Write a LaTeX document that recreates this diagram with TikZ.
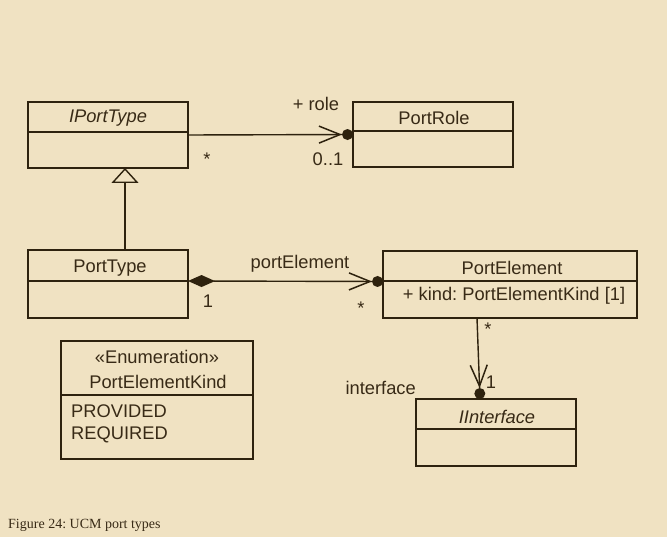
\documentclass[tikz,border=0pt]{standalone}
\usepackage{fontspec}
\setmainfont{Liberation Serif}
\newfontfamily\dfont{Liberation Sans}
\usetikzlibrary{arrows.meta}
\definecolor{bg}{RGB}{240,226,194}
\definecolor{ink}{RGB}{46,34,14}
\definecolor{txtc}{RGB}{56,42,22}
\frenchspacing
\begin{document}
\begin{tikzpicture}[x=1pt,y=-1pt,
  box/.style={draw=ink, line width=1.4pt, anchor=north west, inner sep=0pt, outer sep=0pt, minimum width=160pt},
  divl/.style={draw=ink, line width=1.4pt},
  txt/.style={text=txtc, font=\dfont\fontsize{18.3}{21}\selectfont, inner sep=0pt},
  conn/.style={draw=ink, line width=1.4pt},
  navi/.style={-{Straight Barb[length=21pt,width=17pt,line width=1.5pt] Circle[length=11pt, width=11pt, line width=0pt]}},
  captext/.style={text=txtc, font=\fontsize{14}{16}\selectfont, inner sep=0pt, anchor=base west}
]
\fill[bg] (0,0) rectangle (667,537);
\useasboundingbox (0,0) rectangle (667,537);

% boxes
\node[box, minimum height=66pt] (ipt) at (28,102) {};
\draw[divl] ([yshift=-30pt]ipt.north west) -- ([yshift=-30pt]ipt.north east);
\node[txt] (iptn) at (108,118) {\itshape IPortType};

\node[box, minimum height=65pt] (prole) at (353,102) {};
\draw[divl] ([yshift=-29pt]prole.north west) -- ([yshift=-29pt]prole.north east);
\node[txt] (prolen) at (434,118) {PortRole};

\node[box, minimum height=68pt] (pt) at (28,250) {};
\draw[divl] ([yshift=-31pt]pt.north west) -- ([yshift=-31pt]pt.north east);
\node[txt] (ptn) at (110,268) {PortType};

\node[box, minimum width=254pt, minimum height=67pt] (pe) at (383,251) {};
\draw[divl] ([yshift=-30pt]pe.north west) -- ([yshift=-30pt]pe.north east);
\node[txt] (pen) at (512,268) {PortElement};
\node[txt] (pea) at (514,296) {+ kind: PortElementKind [1]};

\node[box, minimum width=192pt, minimum height=118pt] (enum) at (61,341) {};
\draw[divl] ([yshift=-54pt]enum.north west) -- ([yshift=-54pt]enum.north east);
\node[txt] (enums) at (157,357) {«Enumeration»};
\node[txt] (enumn) at (158,382) {PortElementKind};
\node[txt, anchor=west] (enum1) at (71,411) {PROVIDED};
\node[txt, anchor=west] (enum2) at (71,435) {REQUIRED};

\node[box, minimum height=67pt] (ii) at (416,399) {};
\draw[divl] ([yshift=-30pt]ii.north west) -- ([yshift=-30pt]ii.north east);
\node[txt] (iin) at (497,417) {\itshape IInterface};

% connectors
\draw[conn, navi] (ipt.east) -- (prole.west);
\draw[conn, -{Triangle[open, length=15pt, width=27pt, fill=bg, line width=1.4pt]}] ([xshift=17pt]pt.north) -- ([xshift=17pt]ipt.south);
\draw[conn, {Diamond[length=27pt,width=12pt]}-{Straight Barb[length=21pt,width=17pt,line width=1.5pt] Circle[length=11pt, width=11pt, line width=0pt]}] ([yshift=3pt]pt.east) -- ([yshift=3pt]pe.west);
\draw[conn, navi] ([xshift=-33pt]pe.south) -- ([xshift=-16pt]ii.north);

% labels
\node[txt] (lrole) at (316,104) {+ role};
\node[txt] (lstar1) at (207,159) {*};
\node[txt] (l01) at (328,159) {0..1};
\node[txt] (lpe) at (300,264) {portElement};
\node[txt] (l1a) at (208,301) {1};
\node[txt] (lstar2) at (361,308) {*};
\node[txt] (lstar3) at (488,329) {*};
\node[txt] (l1b) at (491,382) {1};
\node[txt, anchor=east] (lif) at (416,388) {interface};

\node[captext] (caption) at (8,528) {Figure 24: UCM port types};
\end{tikzpicture}
\end{document}
